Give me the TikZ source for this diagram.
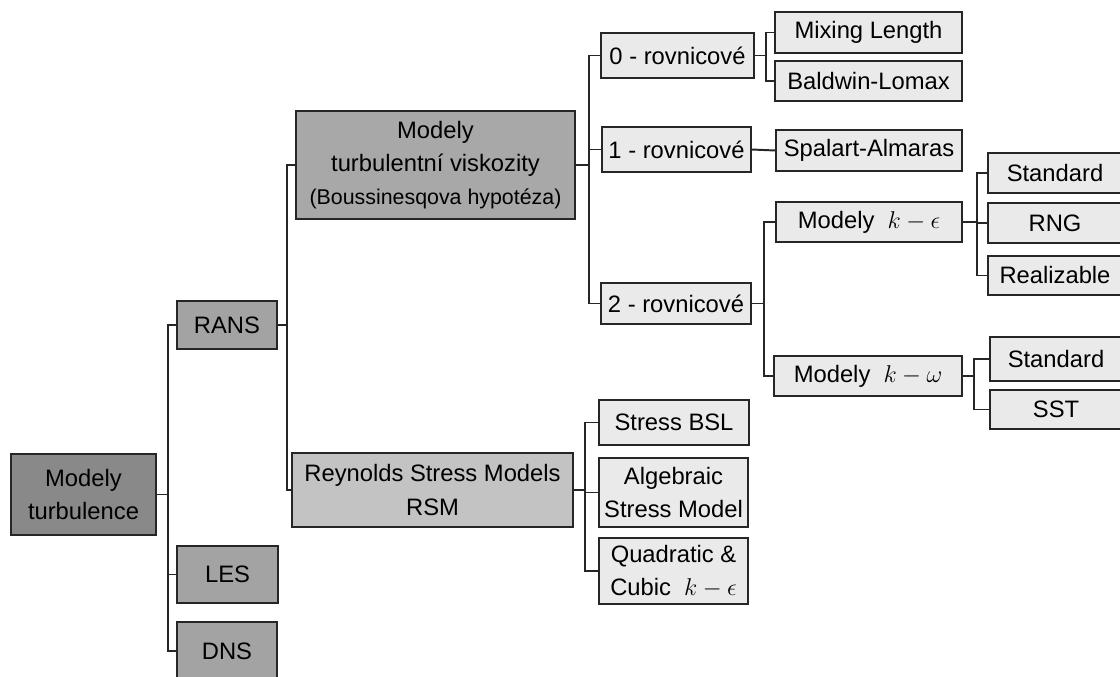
\documentclass[tikz,border=0pt]{standalone}
\usepackage{fontspec}
\setmainfont{Liberation Sans}
\usetikzlibrary{calc}

\definecolor{rootgray}{HTML}{898989}
\definecolor{midgray}{HTML}{A3A3A3}
\definecolor{viskgray}{HTML}{A8A8A8}
\definecolor{rsmgray}{HTML}{C3C3C3}
\definecolor{leafgray}{HTML}{EAEAEA}

\begin{document}
\begin{tikzpicture}[x=0.025cm, y=-0.025cm,
    box/.style={draw=black!85, line width=1.1pt, inner sep=1pt, align=center,
        font=\fontsize{16.9}{23.5}\selectfont},
    mainbox/.style={box, line width=1.8pt},
    leaf/.style={box, fill=leafgray},
    link/.style={draw=black!85, line width=1.4pt}]

\useasboundingbox (0,0) rectangle (1120,677);

% Root
\node[mainbox, fill=rootgray, minimum width=3.625cm, minimum height=2.025cm] (root) at (83.5,494.5) {Modely\\turbulence};

% RANS, LES, DNS
\node[box, fill=midgray, minimum width=2.5cm, minimum height=1.2cm] (rans) at (227,325) {RANS};
\node[box, fill=midgray, minimum width=2.525cm, minimum height=1.425cm] (les) at (227.5,574.5) {LES};
\node[box, fill=midgray, minimum width=2.5cm, minimum height=1.45cm] (dns) at (227,651) {DNS};

% Eddy viscosity
\node[mainbox, fill=viskgray, minimum width=6.975cm, minimum height=2.7cm] (visk) at (435.5,165) {Modely\\turbulentní viskozity\\{\fontsize{15.2}{23.5}\selectfont (Boussinesqova hypotéza)}};

% Reynolds stress
\node[mainbox, fill=rsmgray, minimum width=7.025cm, minimum height=1.85cm] (rsm) at (432.5,490) {Reynolds Stress Models\\RSM};

% Number of equations
\node[leaf, minimum width=3.825cm, minimum height=1.125cm] (rov0) at (677.5,55.5) {0 - rovnicové};
\node[leaf, minimum width=3.725cm, minimum height=1.125cm] (rov1) at (676.5,149.5) {1 - rovnicové};
\node[leaf, minimum width=3.75cm, minimum height=1.025cm] (rov2) at (676,303.5) {2 - rovnicové};

\node[leaf, minimum width=4.675cm, minimum height=1.025cm] (mixlen) at (868.5,32.5) {Mixing Length};
\node[leaf, minimum width=4.675cm, minimum height=1cm] (baldwin) at (868.5,81) {Baldwin-Lomax};
\node[leaf, minimum width=4.65cm, minimum height=1.025cm] (spalart) at (869,150.5) {Spalart-Almaras};
\node[leaf, minimum width=4.65cm, minimum height=1cm] (keps) at (869,222) {Modely~~$k-\epsilon$};
\node[leaf, minimum width=4.7cm, minimum height=1cm] (komega) at (868,376) {Modely~~$k-\omega$};

% k-epsilon variants
\node[leaf, minimum width=3.35cm, minimum height=1cm] (kestd) at (1055,173) {Standard};
\node[leaf, minimum width=3.35cm, minimum height=1cm] (rng) at (1055,223) {RNG};
\node[leaf, minimum width=3.35cm, minimum height=0.975cm] (realiz) at (1055,275.5) {Realizable};

% k-omega variants
\node[leaf, minimum width=3.3cm, minimum height=1.1cm] (kwstd) at (1056,359) {Standard};
\node[leaf, minimum width=3.3cm, minimum height=0.975cm] (sst) at (1056,409.5) {SST};

% RSM variants
\node[leaf, minimum width=3.75cm, minimum height=1.125cm] (bsl) at (674,422.5) {Stress BSL};
\node[leaf, minimum width=3.725cm, minimum height=1.725cm] (asm) at (673.5,492.5) {Algebraic\\Stress Model};
\node[leaf, minimum width=3.725cm, minimum height=1.65cm] (quadcub) at (673.5,571) {Quadratic \&\\Cubic~~$k-\epsilon$};

% Connectors
\draw[link] (root.east) -- ++(11,0) |- (rans.west);
\draw[link] (root.east) -- ++(11,0) |- (les.west);
\draw[link] (root.east) -- ++(11,0) |- (dns.west);

\draw[link] (rans.east) -- ++(9,0) |- (visk.west);
\draw[link] (rans.east) -- ++(9,0) |- (rsm.west);

\draw[link] (visk.east) -- ++(13,0) |- (rov0.west);
\draw[link] (visk.east) -- ++(13,0) |- (rov1.west);
\draw[link] (visk.east) -- ++(13,0) |- (rov2.west);

\draw[link] (rov0.east) -- ++(11,0) |- (mixlen.west);
\draw[link] (rov0.east) -- ++(11,0) |- (baldwin.west);
\draw[link] (rov1.east) -- (spalart.west);
\draw[link] (rov2.east) -- ++(12,0) |- (keps.west);
\draw[link] (rov2.east) -- ++(12,0) |- (komega.west);

\draw[link] (keps.east) -- ++(14,0) |- (kestd.west);
\draw[link] (keps.east) -- ++(14,0) |- (rng.west);
\draw[link] (keps.east) -- ++(14,0) |- (realiz.west);
\draw[link] (komega.east) -- ++(11,0) |- (kwstd.west);
\draw[link] (komega.east) -- ++(11,0) |- (sst.west);

\draw[link] (rsm.east) -- ++(11,0) |- (bsl.west);
\draw[link] (rsm.east) -- ++(11,0) |- (asm.west);
\draw[link] (rsm.east) -- ++(11,0) |- (quadcub.west);
\end{tikzpicture}
\end{document}
